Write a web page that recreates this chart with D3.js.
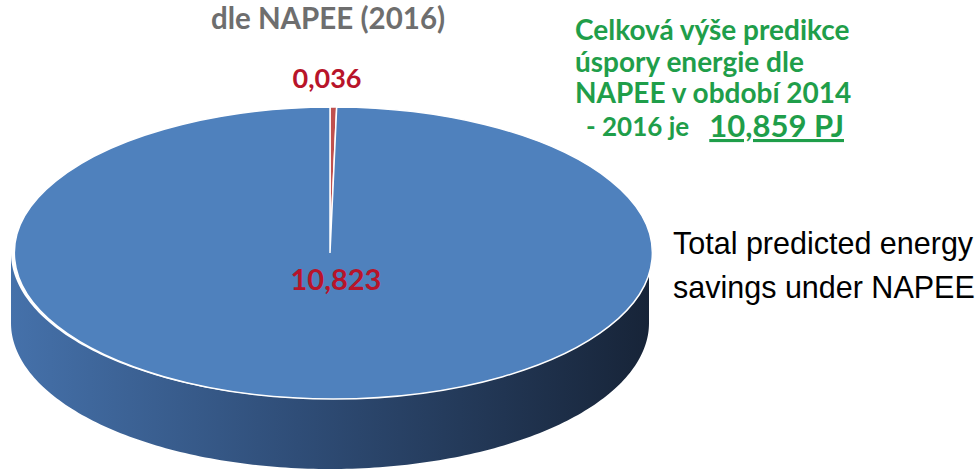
<!DOCTYPE html>
<html>
<head>
<meta charset="utf-8">
<script src="https://cdn.jsdelivr.net/npm/d3@7"></script>
<style>
  html, body { margin: 0; padding: 0; background: #fff; }
  svg { display: block; }
</style>
</head>
<body>
<svg id="svg"></svg>
<script>
// values (PJ)
const labels = ["0,036", "10,823"];
const values = [0.036, 10.823];
const sliceColors = ["#c0504d", "#4f81bd"];

const titleLine = "dle NAPEE (2016)";
const noteLines = ["Celková výše predikce", "úspory energie dle", "NAPEE v období 2014"];
const noteLast = ["- 2016 je", "10,859 PJ"];
const captionLines = ["Total predicted energy", "savings under NAPEE"];

const width = 980;
const height = 471;
let svg = d3.select("#svg").attr("width", width).attr("height", height);

// pie geometry (flattened ellipse + side wall)
const cx = 330, cy = 253, rx = 319, ry = 146, depth = 70;

const defs = svg.append("defs");
const grad = defs.append("linearGradient")
    .attr("id", "side")
    .attr("x1", "0%").attr("x2", "100%").attr("y1", "0%").attr("y2", "0%");
grad.append("stop").attr("offset", "0%").attr("stop-color", "#4571aa");
grad.append("stop").attr("offset", "45%").attr("stop-color", "#2f4d77");
grad.append("stop").attr("offset", "100%").attr("stop-color", "#172438");

// side wall: front half of the rim, from 3 o'clock round to 9 o'clock
const rim = d3.range(Math.PI / 2, 3 * Math.PI / 2 + 0.001, Math.PI / 180);
const side = d3.area()
    .x(a => cx + rx * Math.sin(a))
    .y0(a => cy - ry * Math.cos(a))
    .y1(a => cy - ry * Math.cos(a) + depth);
svg.append("path")
    .datum(rim)
    .attr("d", side)
    .attr("fill", "url(#side)");

// top face
const pie = d3.pie().sort(null).value(d => d);
const arc = d3.arc().innerRadius(0).outerRadius(1);
const face = svg.append("g")
    .attr("transform", `translate(${cx},${cy}) scale(${rx},${ry})`);
face.selectAll("path")
    .data(pie(values))
    .join("path")
    .attr("d", arc)
    .attr("fill", (d, i) => sliceColors[i])
    .attr("stroke", "#ffffff")
    .attr("stroke-width", 1.5)
    .attr("vector-effect", "non-scaling-stroke");

// value labels
const calib = "Lato, 'Open Sans', sans-serif";
svg.append("text")
    .attr("x", cx - 3).attr("y", 88)
    .attr("text-anchor", "middle")
    .attr("font-family", calib).attr("font-weight", 700).attr("font-size", 27)
    .attr("fill", "#b8142a")
    .text(labels[0]);
svg.append("text")
    .attr("x", cx + 6).attr("y", 290)
    .attr("text-anchor", "middle")
    .attr("font-family", calib).attr("font-weight", 700).attr("font-size", 29)
    .attr("fill", "#b8142a")
    .text(labels[1]);

// title (top line is cut off in the source)
svg.append("text")
    .attr("x", cx - 2).attr("y", 29)
    .attr("text-anchor", "middle")
    .attr("font-family", calib).attr("font-weight", 700).attr("font-size", 29.5)
    .attr("fill", "#6e6e6e")
    .text(titleLine);

// green note
const note = svg.append("g")
    .attr("font-family", calib).attr("font-weight", 700)
    .attr("fill", "#1f9e4a");
note.selectAll("text.line")
    .data(noteLines)
    .join("text")
    .attr("class", "line")
    .attr("x", 575)
    .attr("y", (d, i) => 40 + i * 31.5)
    .attr("font-size", 28)
    .text(d => d);
note.append("text")
    .attr("x", 586).attr("y", 136)
    .attr("font-size", 26)
    .text(noteLast[0]);
note.append("text")
    .attr("x", 844).attr("y", 137)
    .attr("text-anchor", "end")
    .attr("font-size", 31)
    .attr("text-decoration", "underline")
    .text(noteLast[1]);

// english caption
svg.append("g")
    .attr("font-family", "'Liberation Sans', Arial, sans-serif")
    .attr("font-size", 30.5)
    .attr("fill", "#000")
    .selectAll("text")
    .data(captionLines)
    .join("text")
    .attr("x", 673)
    .attr("y", (d, i) => 254 + i * 44)
    .text(d => d);
</script>
</body>
</html>
